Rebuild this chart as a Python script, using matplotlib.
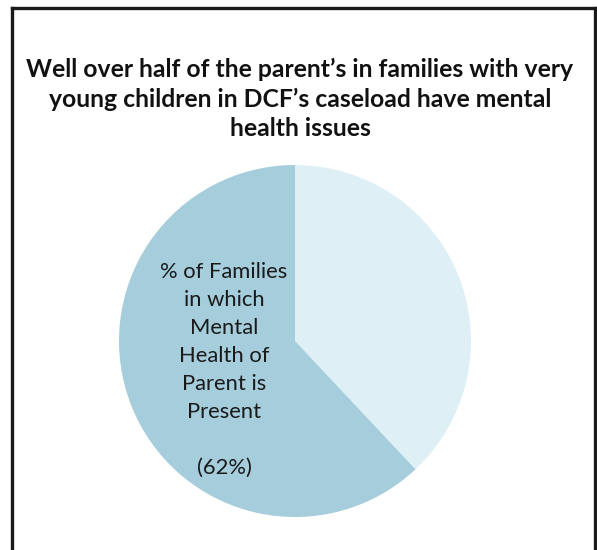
import matplotlib
matplotlib.use("Agg")
import matplotlib.pyplot as plt
from matplotlib.lines import Line2D

# share of families, clockwise from 12 o'clock
categories = ["Mental health of parent not present", "Mental health of parent present"]
shares = [38, 62]
colors = ["#deeff6", "#a5cddc"]

title = ("Well over half of the parent\u2019s in families with very\n"
         "young children in DCF\u2019s caseload have mental\n"
         "health issues")
slice_label = "% of Families\nin which\nMental\nHealth of\nParent is\nPresent\n\n(62%)"

W, H = 597, 550
fig = plt.figure(figsize=(W / 100, H / 100), dpi=100)
fig.patch.set_facecolor("white")

def fx(px):
    return px / W

def fy(py):
    return 1 - py / H

# frame around the chart area (bottom edge runs off the image)
frame_kw = dict(color="#1a1a1a", linewidth=2.4, transform=fig.transFigure)
fig.add_artist(Line2D([fx(12), fx(595)], [fy(8), fy(8)], **frame_kw))
fig.add_artist(Line2D([fx(12), fx(12)], [fy(8), fy(560)], **frame_kw))
fig.add_artist(Line2D([fx(595), fx(595)], [fy(8), fy(560)], **frame_kw))

fig.text(fx(300), fy(99), title, ha="center", va="center",
         fontsize=17.8, fontweight="bold", family="Lato",
         linespacing=1.32, color="#111111")

# pie centred at (295, 341) px with radius 176 px
cx, cy, r = 295, 341, 176
ax = fig.add_axes([fx(cx - r), fy(cy + r), 2 * r / W, 2 * r / H])
ax.pie(shares, colors=colors, startangle=90, counterclock=False,
       radius=1, wedgeprops=dict(linewidth=0))
ax.set_xlim(-1, 1)
ax.set_ylim(-1, 1)
ax.set_aspect("auto")
ax.axis("off")

ax.text((224 - cx) / r, (cy - 370) / r, slice_label, ha="center", va="center",
        fontsize=15.8, family="Lato", linespacing=1.5, color="#1a1a1a")

fig.savefig("out.png", dpi=100)
